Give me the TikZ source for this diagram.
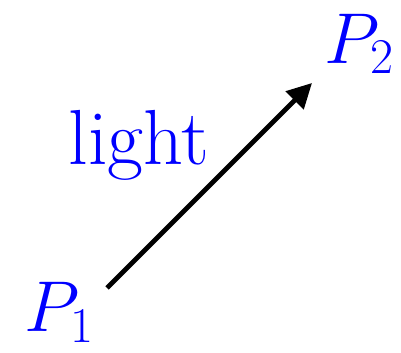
\documentclass[tikz,border=0pt]{standalone}
\usetikzlibrary{arrows.meta}
\begin{document}
\begin{tikzpicture}[x=0.3456pt,y=-0.3456pt,
  lbl/.style={text=blue,font=\fontsize{27}{32}\selectfont,inner sep=0pt,anchor=base west},
  ray/.style={line width=1.6pt,-{Triangle[length=8.5pt,width=8.5pt]}}]
\useasboundingbox (0,0) rectangle (401,353);
\node[lbl] (p1) at (24,332) {$P_1$};
\node[lbl] (p2) at (324,63) {$P_2$};
\node[lbl] (light) at (68,165) {light};
\coordinate (a) at (107,288);
\coordinate (b) at (312,83);
\draw[ray] (a) -- (b);
\end{tikzpicture}
\end{document}
